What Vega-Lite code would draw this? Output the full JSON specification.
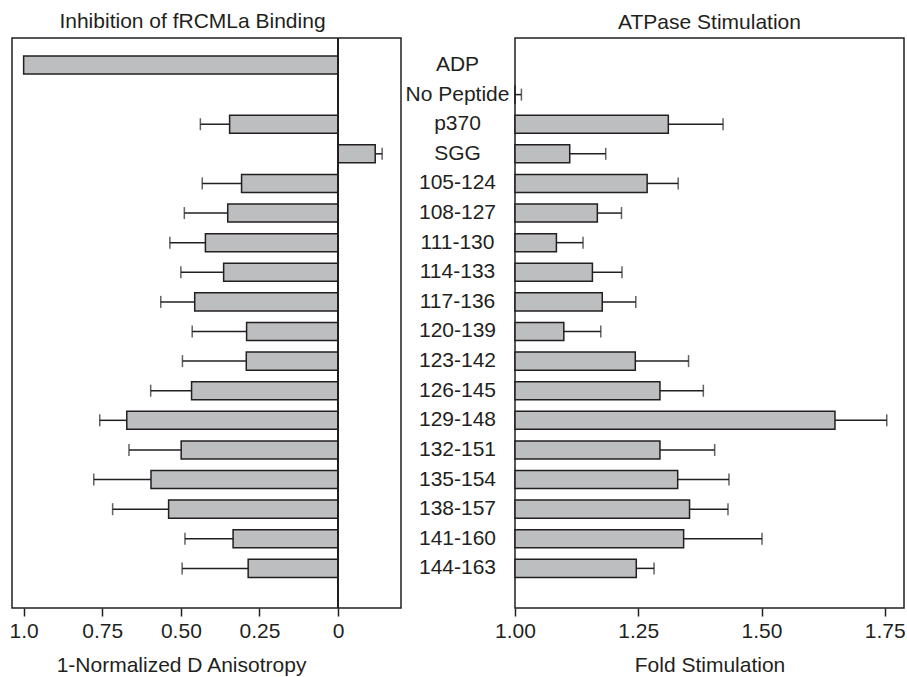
{
  "$schema": "https://vega.github.io/schema/vega-lite/v6.json",
  "autosize": {"type": "pad"},
  "padding": {"left": 8, "top": 10, "right": 1, "bottom": 1},
  "background": "white",
  "bounds": "flush",
  "spacing": 114,
  "data": {"values": [
    {"label": "ADP", "inh": 1.0, "inhErr": null, "fold": null, "foldErr": null},
    {"label": "No Peptide", "inh": null, "inhErr": null, "fold": 1.0, "foldErr": 1.013},
    {"label": "p370", "inh": 0.345, "inhErr": 0.438, "fold": 1.311, "foldErr": 1.422},
    {"label": "SGG", "inh": -0.118, "inhErr": -0.14, "fold": 1.111, "foldErr": 1.184},
    {"label": "105-124", "inh": 0.307, "inhErr": 0.432, "fold": 1.268, "foldErr": 1.331},
    {"label": "108-127", "inh": 0.351, "inhErr": 0.489, "fold": 1.167, "foldErr": 1.216},
    {"label": "111-130", "inh": 0.422, "inhErr": 0.535, "fold": 1.084, "foldErr": 1.138},
    {"label": "114-133", "inh": 0.364, "inhErr": 0.5, "fold": 1.157, "foldErr": 1.217},
    {"label": "117-136", "inh": 0.456, "inhErr": 0.564, "fold": 1.177, "foldErr": 1.245},
    {"label": "120-139", "inh": 0.291, "inhErr": 0.464, "fold": 1.099, "foldErr": 1.174},
    {"label": "123-142", "inh": 0.292, "inhErr": 0.495, "fold": 1.244, "foldErr": 1.352},
    {"label": "126-145", "inh": 0.466, "inhErr": 0.596, "fold": 1.294, "foldErr": 1.382},
    {"label": "129-148", "inh": 0.672, "inhErr": 0.758, "fold": 1.649, "foldErr": 1.754},
    {"label": "132-151", "inh": 0.499, "inhErr": 0.665, "fold": 1.294, "foldErr": 1.405},
    {"label": "135-154", "inh": 0.595, "inhErr": 0.777, "fold": 1.33, "foldErr": 1.434},
    {"label": "138-157", "inh": 0.539, "inhErr": 0.717, "fold": 1.354, "foldErr": 1.432},
    {"label": "141-160", "inh": 0.334, "inhErr": 0.487, "fold": 1.342, "foldErr": 1.501},
    {"label": "144-163", "inh": 0.286, "inhErr": 0.496, "fold": 1.246, "foldErr": 1.282}
  ]},
  "hconcat": [
    {
      "width": 389,
      "height": 570,
      "title": {"text": "Inhibition of fRCMLa Binding", "dx": -14},
      "encoding": {
        "y": {
          "field": "label", "type": "nominal",
          "scale": {"domain": ["ADP","No Peptide","p370","SGG","105-124","108-127","111-130","114-133","117-136","120-139","123-142","126-145","129-148","132-151","135-154","138-157","141-160","144-163"], "paddingInner": 0.39, "paddingOuter": 0.82, "align": 0.37},
          "axis": null
        }
      },
      "layer": [
        {
          "transform": [{"filter": "datum.inh != null"}],
          "mark": {"type": "bar", "fill": "#bcbec0", "stroke": "#231f20", "strokeWidth": 1.5},
          "encoding": {
            "x": {"field": "inh", "type": "quantitative",
              "scale": {"domain": [-0.2, 1.037], "reverse": true, "nice": false, "zero": false},
              "axis": {"values": [1, 0.75, 0.5, 0.25, 0], "labelExpr": "datum.value == 1 ? '1.0' : datum.value == 0 ? '0' : format(datum.value, '.2f')", "title": "1-Normalized D Anisotropy", "titleX": 169}},
            "x2": {"datum": 0}
          }
        },
        {
          "transform": [{"filter": "datum.inhErr != null"}],
          "mark": {"type": "rule", "stroke": "#231f20", "strokeWidth": 1.5},
          "encoding": {"x": {"field": "inh", "type": "quantitative"}, "x2": {"field": "inhErr"}}
        },
        {
          "transform": [{"filter": "datum.inhErr != null"}],
          "mark": {"type": "tick", "color": "#231f20", "thickness": 1.5, "size": 12, "orient": "vertical"},
          "encoding": {"x": {"field": "inhErr", "type": "quantitative"}}
        },
        {
          "mark": {"type": "rule", "stroke": "#231f20", "strokeWidth": 1.5},
          "encoding": {"x": {"datum": 0}, "y": null}
        }
      ]
    },
    {
      "width": 389,
      "height": 570,
      "title": {"text": "ATPase Stimulation"},
      "encoding": {
        "y": {
          "field": "label", "type": "nominal",
          "scale": {"domain": ["ADP","No Peptide","p370","SGG","105-124","108-127","111-130","114-133","117-136","120-139","123-142","126-145","129-148","132-151","135-154","138-157","141-160","144-163"], "paddingInner": 0.39, "paddingOuter": 0.82, "align": 0.37},
          "axis": {"title": null, "ticks": false, "tickSize": 0, "domain": false, "labelAlign": "center", "labelPadding": 58, "labelBaseline": "middle"}
        }
      },
      "layer": [
        {
          "transform": [{"filter": "datum.fold != null"}],
          "mark": {"type": "bar", "fill": "#bcbec0", "stroke": "#231f20", "strokeWidth": 1.5},
          "encoding": {
            "x": {"field": "fold", "type": "quantitative",
              "scale": {"domain": [1.0, 1.789], "nice": false, "zero": false},
              "axis": {"values": [1, 1.25, 1.5, 1.75], "format": ".2f", "title": "Fold Stimulation"}},
            "x2": {"datum": 1.0}
          }
        },
        {
          "transform": [{"filter": "datum.foldErr != null"}],
          "mark": {"type": "rule", "stroke": "#231f20", "strokeWidth": 1.5},
          "encoding": {"x": {"field": "fold", "type": "quantitative"}, "x2": {"field": "foldErr"}}
        },
        {
          "transform": [{"filter": "datum.foldErr != null"}],
          "mark": {"type": "tick", "color": "#231f20", "thickness": 1.5, "size": 12, "orient": "vertical"},
          "encoding": {"x": {"field": "foldErr", "type": "quantitative"}}
        }
      ]
    }
  ],
  "config": {
    "font": "Liberation Sans",
    "view": {"stroke": "#231f20", "strokeWidth": 1.5},
    "title": {"font": "Liberation Sans", "fontSize": 21, "fontWeight": "normal", "color": "#231f20", "offset": 5},
    "axis": {
      "labelFont": "Liberation Sans", "titleFont": "Liberation Sans",
      "labelFontSize": 21, "titleFontSize": 21, "titleFontWeight": "normal",
      "labelColor": "#231f20", "titleColor": "#231f20",
      "tickColor": "#231f20", "tickWidth": 1.5, "tickSize": 8,
      "domain": false, "grid": false
    },
    "axisX": {"labelPadding": 4, "titlePadding": 13, "labelFlush": false},
    "axisY": {"labelFontSize": 21}
  }
}
